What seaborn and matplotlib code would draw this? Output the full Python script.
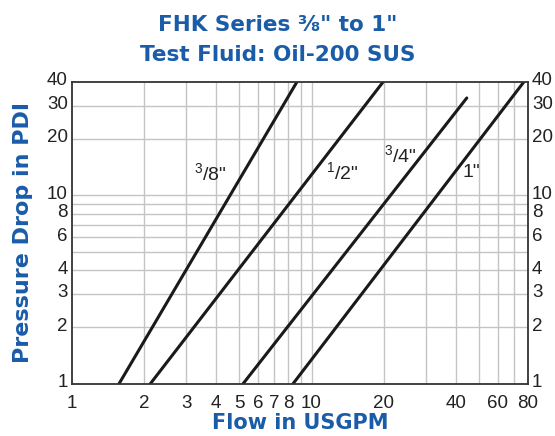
import matplotlib
matplotlib.use("Agg")
import matplotlib.pyplot as plt
import matplotlib.transforms as mtrans
from matplotlib.ticker import FixedLocator, FixedFormatter, NullLocator
import seaborn as sns
import pandas as pd

# valve sizes and the two end points of each curve (flow USGPM, pressure drop PDI)
sizes = ['3/8"', '1/2"', '3/4"', '1"']
flow_lo = [1.57, 2.12, 5.17, 8.36]
pd_lo = [1, 1, 1, 1]
flow_hi = [8.69, 19.9, 44.5, 77]
pd_hi = [40, 40, 32.9, 40]

# where the size labels sit
label_text = [r'$^{3}$/8"', r'$^{1}$/2"', r'$^{3}$/4"', '1"']
label_x = [3.77, 13.4, 23.4, 46.7]
label_y = [13.2, 13.3, 16.4, 13.3]

x_ticks = [1, 2, 3, 4, 5, 6, 7, 8, 10, 20, 40, 60, 80]
x_grid = [2, 3, 4, 5, 6, 7, 8, 9, 10, 20, 30, 40, 50, 60, 70]
y_ticks = [1, 2, 3, 4, 6, 8, 10, 20, 30, 40]
y_grid = [2, 3, 4, 5, 6, 7, 8, 9, 10, 20, 30]

rows = []
for s, x0, y0, x1, y1 in zip(sizes, flow_lo, pd_lo, flow_hi, pd_hi):
    rows.append({"size": s, "flow": x0, "pdrop": y0})
    rows.append({"size": s, "flow": x1, "pdrop": y1})
df = pd.DataFrame(rows)

sns.set_style("white")
plt.rcParams['font.family'] = ['Liberation Sans', 'DejaVu Sans']
plt.rcParams['mathtext.fontset'] = 'custom'
plt.rcParams['mathtext.rm'] = 'Liberation Sans'
plt.rcParams['mathtext.it'] = 'Liberation Sans'

blue = "#1a5ca8"

fig = plt.figure(figsize=(5.55, 4.36), dpi=100)
ax = fig.add_axes([0.1297, 0.1193, 0.8213, 0.6927])

sns.lineplot(data=df, x="flow", y="pdrop", hue="size", palette=["#1a1a1a"] * 4,
             estimator=None, linewidth=2.2, legend=False, ax=ax)

ax.set_xscale("log")
ax.set_yscale("log")
ax.set_xlim(1, 80)
ax.set_ylim(1, 40)

for v in x_grid:
    ax.axvline(v, color="#c4c4c4", linewidth=1.0, zorder=0)
for v in y_grid:
    ax.axhline(v, color="#c4c4c4", linewidth=1.0, zorder=0)

ax.xaxis.set_major_locator(FixedLocator(x_ticks))
ax.xaxis.set_major_formatter(FixedFormatter([str(t) for t in x_ticks]))
ax.xaxis.set_minor_locator(NullLocator())
ax.yaxis.set_major_locator(FixedLocator(y_ticks))
ax.yaxis.set_major_formatter(FixedFormatter([str(t) for t in y_ticks]))
ax.yaxis.set_minor_locator(NullLocator())
ax.tick_params(axis="both", length=0, labelsize=13.5, colors="#222222")
ax.tick_params(axis="y", labelright=True, right=False, pad=3)
ax.tick_params(axis="x", pad=8)

# y labels sit a little above their grid lines, like the reference
shift = mtrans.ScaledTranslation(0, 2.2 / 72, fig.dpi_scale_trans)
for tk in ax.yaxis.get_major_ticks():
    tk.label1.set_transform(tk.label1.get_transform() + shift)
    tk.label2.set_transform(tk.label2.get_transform() + shift)

for sp in ax.spines.values():
    sp.set_color("#333333")
    sp.set_linewidth(1.3)

for t, x, y in zip(label_text, label_x, label_y):
    ax.text(x, y, t, fontsize=14, ha="center", va="center", color="#222222")

ax.set_xlabel("Flow in USGPM", fontsize=15, fontweight="bold", color=blue,
              family=["DejaVu Sans"], labelpad=1)
ax.set_ylabel("Pressure Drop in PDI", fontsize=16, fontweight="bold", color=blue,
              family=["DejaVu Sans"], labelpad=10)

fig.text(0.5, 0.943, "FHK Series \u215c\" to 1\"", ha="center", va="center",
         fontsize=15.5, fontweight="bold", color=blue, family=["DejaVu Sans"])
fig.text(0.5, 0.874, "Test Fluid: Oil-200 SUS", ha="center", va="center",
         fontsize=15.5, fontweight="bold", color=blue, family=["DejaVu Sans"])

fig.savefig("out.png", dpi=100)
